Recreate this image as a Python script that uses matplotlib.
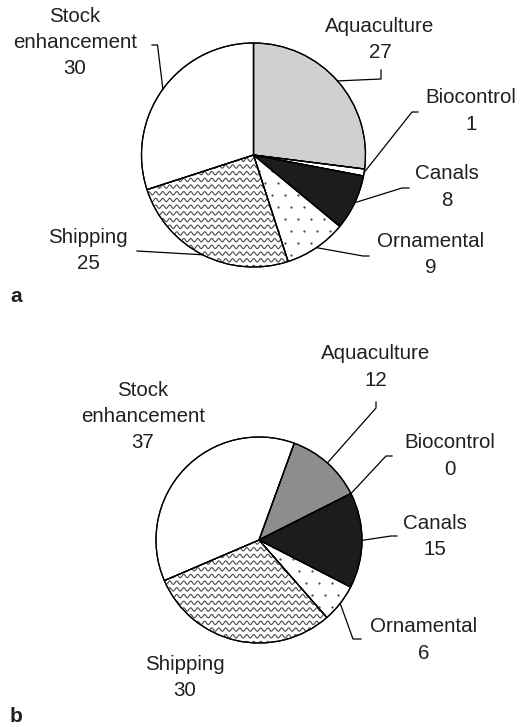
import numpy as np
import matplotlib.pyplot as plt

W, H = 522, 727

# data
names = ["Aquaculture", "Biocontrol", "Canals", "Ornamental", "Shipping", "Stock\nenhancement"]
values_a = [27, 1, 8, 9, 25, 30]
values_b = [12, 0, 15, 6, 30, 37]
fills_a = ["#d0d0d0", "white", "#1c1c1c", "white", "white", "white"]
fills_b = ["#8d8d8d", "white", "#1c1c1c", "white", "white", "white"]

# layout (pixel coords, y downwards)
panels = [
    dict(values=values_a, fills=fills_a, center=(253.5, 155), radius=112, start=90, letter="a",
         letter_pos=(16, 296),
         labels=[(380, 39.5), (471, 111), (447, 187), (431, 254.5), (88, 250.5), (75, 42.5)],
         leaders=[[(381, 79), (381, 70)], [(412, 112), (418, 112)], [(402, 188), (409, 188)],
                  [(363, 256), (369, 256)], [(137, 251)], [(157.5, 45), (152, 45)]]),
    dict(values=values_b, fills=fills_b, center=(259, 540), radius=103, start=70, letter="b",
         letter_pos=(16, 716),
         labels=[(376, 367), (450, 456), (435, 536.5), (424, 640), (185, 677.5), (143, 416.5)],
         leaders=[[(376, 408), (376, 402)], [(386, 456), (392, 456)], [(391, 536), (397, 536)],
                  [(353, 639), (361, 639)], None, None]),
]

TXT = "#231f20"
plt.rcParams['font.family'] = ['Liberation Sans', 'DejaVu Sans']

fig = plt.figure(figsize=(W / 100, H / 100), dpi=100)
ax = fig.add_axes([0, 0, 1, 1])


def up(p):
    return p[0], H - p[1]


def wavy(wedge, cx, cy, r):
    for y0 in np.arange(cy - r, cy + r, 6.7):
        x = np.arange(cx - r, cx + r, 0.4)
        y = y0 + 1.7 * np.sin(2 * np.pi * x / 7.0)
        ln, = ax.plot(x, y, color="#4a4a4a", lw=0.8, zorder=2)
        ln.set_clip_path(wedge)


def dots(wedge, cx, cy, r):
    xs, ys = [], []
    for i, y0 in enumerate(np.arange(cy - r, cy + r, 12)):
        off = 6.5 if i % 2 else 0
        for x0 in np.arange(cx - r + off, cx + r, 13):
            xs.append(x0)
            ys.append(y0)
    sc = ax.scatter(xs, ys, s=2.6, color="#444444", zorder=2, linewidths=0)
    sc.set_clip_path(wedge)


for pn in panels:
    cx, cy = up(pn["center"])
    r = pn["radius"]
    vals = pn["values"]
    wedges, _ = ax.pie(vals, colors=pn["fills"], startangle=pn["start"], counterclock=False,
                       center=(cx, cy), radius=r, frame=True,
                       wedgeprops=dict(edgecolor="black", linewidth=0.9))
    wavy(wedges[4], cx, cy, r)
    dots(wedges[3], cx, cy, r)
    # redraw outlines on top of textures
    for w in wedges:
        w.set_zorder(1)
    ax.pie(vals, colors=["none"] * len(vals), startangle=pn["start"], counterclock=False,
           center=(cx, cy), radius=r, frame=True,
           wedgeprops=dict(edgecolor="black", linewidth=0.9, fill=False, zorder=3))

    total = float(sum(vals))
    before = np.cumsum([0] + vals[:-1])
    for i, name in enumerate(names):
        tx, ty = up(pn["labels"][i])
        ax.text(tx, ty, f"{name}\n{vals[i]}", ha="center", va="center", fontsize=14.8,
                color=TXT, linespacing=1.47, zorder=4)
        lead = pn["leaders"][i]
        if lead is None:
            continue
        ang = np.deg2rad(pn["start"] - 360 * (before[i] + vals[i] / 2) / total)
        pts = [(cx + r * np.cos(ang), cy + r * np.sin(ang))] + [up(p) for p in lead]
        px, py = zip(*pts)
        ax.plot(px, py, color="black", lw=0.9, zorder=3)

    lx, ly = up(pn["letter_pos"])
    ax.text(lx, ly, pn["letter"], ha="center", va="center", fontsize=15, fontweight="bold", color=TXT)

ax.set_xlim(0, W)
ax.set_ylim(0, H)
ax.set_aspect("equal")
ax.axis("off")

fig.savefig("out.png", dpi=100, facecolor="white")
